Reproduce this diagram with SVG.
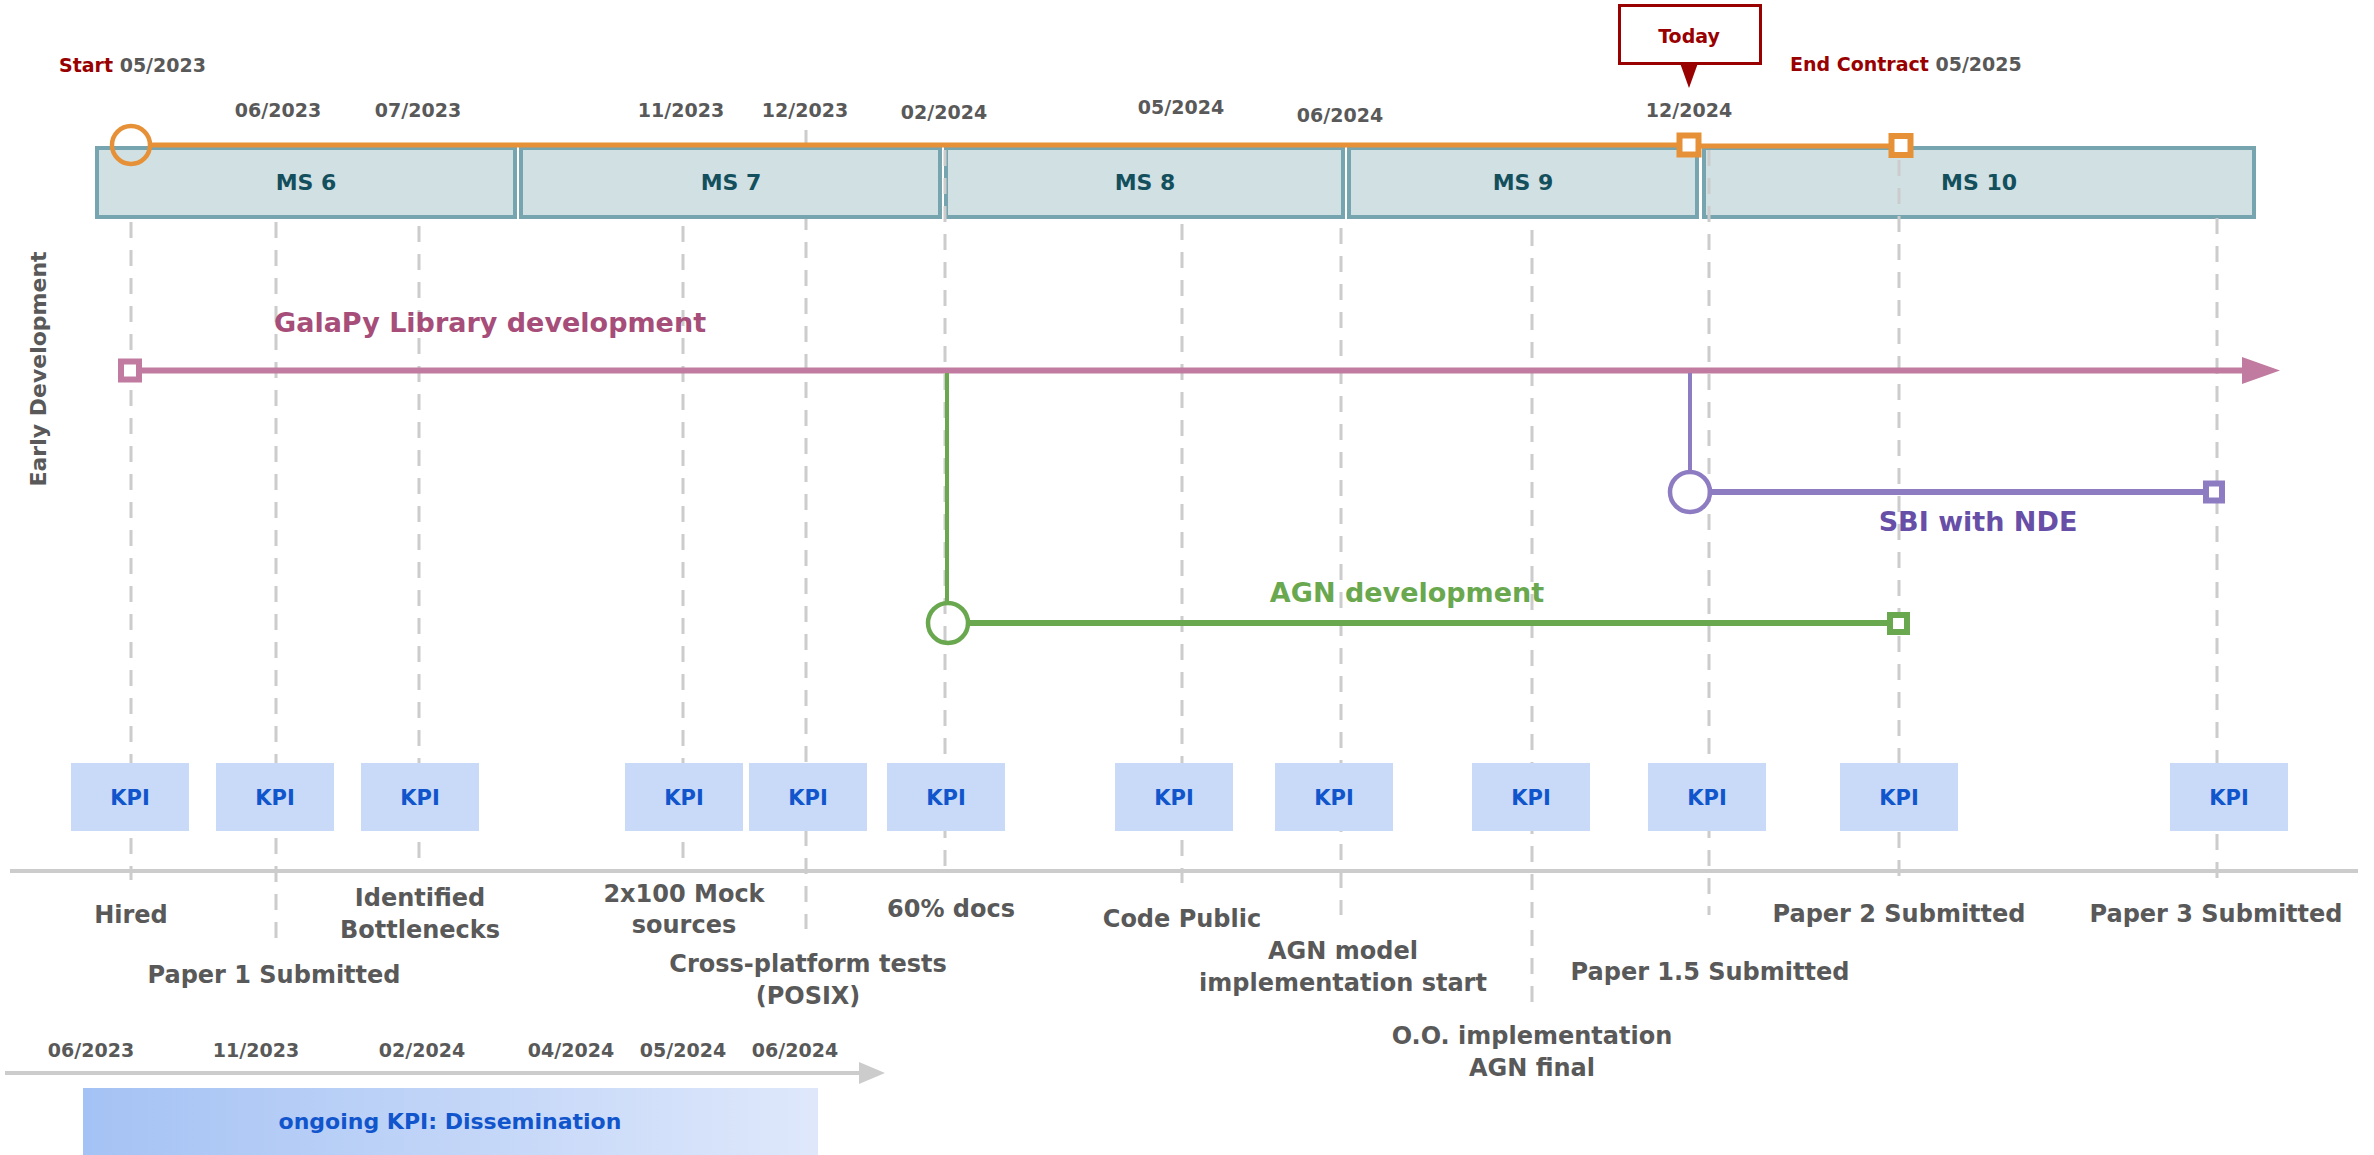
<svg xmlns="http://www.w3.org/2000/svg" width="2374" height="1155" viewBox="0 0 2374 1155">
<defs>
<linearGradient id="dissGrad" x1="0" y1="0" x2="1" y2="0">
<stop offset="0" stop-color="#a4c2f4"/>
<stop offset="1" stop-color="#dfe8fb"/>
</linearGradient>
<style>
text{font-family:"DejaVu Sans","Liberation Sans",sans-serif;font-weight:bold}
.date{font-size:19px;fill:#595959;text-anchor:middle}
.ms rect{fill:#d0e0e3;stroke:#76a5af;stroke-width:4}
.ms text{font-size:22px;fill:#134f5c;text-anchor:middle}
.kpi rect{fill:#c9daf8}
.kpi text{font-size:21px;fill:#1155cc;text-anchor:middle}
.lbl{font-size:24px;fill:#595959;text-anchor:middle}
.dash{stroke:#cccccc;stroke-width:3;stroke-dasharray:16 12;fill:none}
.red{fill:#990000}
</style>
</defs>
<rect width="2374" height="1155" fill="#ffffff"/>

<!-- dashed line behind box -->
<g id="connectors-back">
<line class="dash" x1="806" y1="130" x2="806" y2="929"/>
</g>

<!-- Milestone boxes -->
<g id="ms6" class="ms"><rect x="97" y="148" width="418" height="69"/><text x="306" y="190">MS 6</text></g>
<g id="ms7" class="ms"><rect x="521" y="148" width="419" height="69"/><text x="731" y="190">MS 7</text></g>
<g id="ms8" class="ms"><rect x="946" y="148" width="397" height="69"/><text x="1145" y="190">MS 8</text></g>
<g id="ms9" class="ms"><rect x="1349" y="148" width="348" height="69"/><text x="1523" y="190">MS 9</text></g>
<g id="ms10" class="ms"><rect x="1704" y="148" width="550" height="69"/><text x="1979" y="190">MS 10</text></g>

<g id="connectors">
<line class="dash" x1="131" y1="222" x2="131" y2="880"/>
<line class="dash" x1="276" y1="222" x2="276" y2="939"/>
<line class="dash" x1="419" y1="226" x2="419" y2="866"/>
<line class="dash" x1="683" y1="226" x2="683" y2="860"/>
<line class="dash" x1="945" y1="150" x2="945" y2="873"/>
<line class="dash" x1="1182" y1="224" x2="1182" y2="883"/>
<line class="dash" x1="1341" y1="228" x2="1341" y2="915"/>
<line class="dash" x1="1532" y1="230" x2="1532" y2="1002"/>
<line class="dash" x1="1709" y1="150" x2="1709" y2="915"/>
<line class="dash" x1="1899" y1="160" x2="1899" y2="878"/>
<line class="dash" x1="2217" y1="218" x2="2217" y2="878"/>

<!-- orange contract line -->
<line x1="151" y1="145" x2="1680" y2="145" stroke="#e69138" stroke-width="5"/>
<line x1="1698" y1="146" x2="1892" y2="146" stroke="#e69138" stroke-width="5"/>
<circle cx="131" cy="145" r="19" fill="none" stroke="#e69138" stroke-width="4.5"/>
<rect x="1679.5" y="135.5" width="19" height="19" fill="#ffffff" stroke="#e69138" stroke-width="6"/>
<rect x="1891.5" y="136" width="19" height="19" fill="#ffffff" stroke="#e69138" stroke-width="6"/>

<!-- GalaPy line -->
<line x1="142" y1="370.5" x2="2246" y2="370.5" stroke="#c27ba0" stroke-width="6"/>
<polygon points="2242,357 2280,370.5 2242,384" fill="#c27ba0"/>
<rect x="121" y="361.5" width="18" height="18" fill="#ffffff" stroke="#c27ba0" stroke-width="6"/>

<!-- AGN branch -->
<line x1="947" y1="373" x2="947" y2="602" stroke="#6aa84f" stroke-width="4"/>
<circle cx="948" cy="623" r="20" fill="none" stroke="#6aa84f" stroke-width="4.5"/>
<line x1="968" y1="623" x2="1890" y2="623" stroke="#6aa84f" stroke-width="6"/>
<rect x="1890" y="615" width="17" height="17" fill="#ffffff" stroke="#6aa84f" stroke-width="6"/>

<!-- SBI branch -->
<line x1="1690" y1="373" x2="1690" y2="471" stroke="#8e7cc3" stroke-width="4"/>
<circle cx="1690" cy="492" r="20" fill="none" stroke="#8e7cc3" stroke-width="4.5"/>
<line x1="1710" y1="492" x2="2206" y2="492" stroke="#8e7cc3" stroke-width="6"/>
<rect x="2206" y="483.5" width="16" height="17" fill="#ffffff" stroke="#8e7cc3" stroke-width="6"/>

<!-- main axis -->
<line x1="10" y1="871" x2="2358" y2="871" stroke="#cccccc" stroke-width="4"/>

<!-- bottom dissemination axis -->
<line x1="5" y1="1073" x2="862" y2="1073" stroke="#cccccc" stroke-width="4"/>
<polygon points="859,1062 885,1073 859,1084" fill="#cccccc"/>
</g>

<!-- Header labels -->
<g id="start-label"><text x="59" y="72" font-size="19"><tspan class="red">Start</tspan><tspan fill="#595959"> 05/2023</tspan></text></g>
<g id="end-label"><text x="1790" y="71" font-size="19"><tspan class="red">End Contract</tspan><tspan fill="#595959"> 05/2025</tspan></text></g>
<g id="today">
<rect x="1619.5" y="5.5" width="141" height="58" fill="#ffffff" stroke="#990000" stroke-width="3"/>
<polygon points="1680,63 1698,63 1689,88" fill="#990000"/>
<text x="1689" y="43" font-size="19" class="red" text-anchor="middle">Today</text>
</g>

<g id="top-dates">
<text class="date" x="278" y="117">06/2023</text>
<text class="date" x="418" y="117">07/2023</text>
<text class="date" x="681" y="117">11/2023</text>
<text class="date" x="805" y="117">12/2023</text>
<text class="date" x="944" y="119">02/2024</text>
<text class="date" x="1181" y="114">05/2024</text>
<text class="date" x="1340" y="122">06/2024</text>
<text class="date" x="1689" y="117">12/2024</text>
</g>

<g id="early-dev"><text transform="translate(46,369) rotate(-90)" font-size="22" fill="#595959" text-anchor="middle">Early Development</text></g>

<g id="galapy"><text x="274" y="332" font-size="27" fill="#a64d79">GalaPy Library development</text></g>
<g id="agn"><text x="1407" y="602" font-size="27" fill="#6aa84f" text-anchor="middle">AGN development</text></g>
<g id="sbi"><text x="1978" y="531" font-size="27" fill="#674ea7" text-anchor="middle">SBI with NDE</text></g>

<!-- KPI boxes -->
<g id="kpi1" class="kpi"><rect x="71" y="763" width="118" height="68"/><text x="130" y="805">KPI</text></g>
<g id="kpi2" class="kpi"><rect x="216" y="763" width="118" height="68"/><text x="275" y="805">KPI</text></g>
<g id="kpi3" class="kpi"><rect x="361" y="763" width="118" height="68"/><text x="420" y="805">KPI</text></g>
<g id="kpi4" class="kpi"><rect x="625" y="763" width="118" height="68"/><text x="684" y="805">KPI</text></g>
<g id="kpi5" class="kpi"><rect x="749" y="763" width="118" height="68"/><text x="808" y="805">KPI</text></g>
<g id="kpi6" class="kpi"><rect x="887" y="763" width="118" height="68"/><text x="946" y="805">KPI</text></g>
<g id="kpi7" class="kpi"><rect x="1115" y="763" width="118" height="68"/><text x="1174" y="805">KPI</text></g>
<g id="kpi8" class="kpi"><rect x="1275" y="763" width="118" height="68"/><text x="1334" y="805">KPI</text></g>
<g id="kpi9" class="kpi"><rect x="1472" y="763" width="118" height="68"/><text x="1531" y="805">KPI</text></g>
<g id="kpi10" class="kpi"><rect x="1648" y="763" width="118" height="68"/><text x="1707" y="805">KPI</text></g>
<g id="kpi11" class="kpi"><rect x="1840" y="763" width="118" height="68"/><text x="1899" y="805">KPI</text></g>
<g id="kpi12" class="kpi"><rect x="2170" y="763" width="118" height="68"/><text x="2229" y="805">KPI</text></g>

<!-- Event labels -->
<g id="events">
<text class="lbl" x="131" y="923">Hired</text>
<text class="lbl" x="274" y="983">Paper 1 Submitted</text>
<text class="lbl" x="420" y="906">Identified</text>
<text class="lbl" x="420" y="938">Bottlenecks</text>
<text class="lbl" x="684" y="902">2x100 Mock</text>
<text class="lbl" x="684" y="933">sources</text>
<text class="lbl" x="808" y="972">Cross-platform tests</text>
<text class="lbl" x="808" y="1004">(POSIX)</text>
<text class="lbl" x="951" y="917">60% docs</text>
<text class="lbl" x="1182" y="927">Code Public</text>
<text class="lbl" x="1343" y="959">AGN model</text>
<text class="lbl" x="1343" y="991">implementation start</text>
<text class="lbl" x="1532" y="1044">O.O. implementation</text>
<text class="lbl" x="1532" y="1076">AGN final</text>
<text class="lbl" x="1710" y="980">Paper 1.5 Submitted</text>
<text class="lbl" x="1899" y="922">Paper 2 Submitted</text>
<text class="lbl" x="2216" y="922">Paper 3 Submitted</text>
</g>

<g id="bottom-dates">
<text class="date" x="91" y="1057">06/2023</text>
<text class="date" x="256" y="1057">11/2023</text>
<text class="date" x="422" y="1057">02/2024</text>
<text class="date" x="571" y="1057">04/2024</text>
<text class="date" x="683" y="1057">05/2024</text>
<text class="date" x="795" y="1057">06/2024</text>
</g>

<g id="dissemination">
<rect x="83" y="1088" width="735" height="67" fill="url(#dissGrad)"/>
<text x="450" y="1129" font-size="22" fill="#1155cc" text-anchor="middle">ongoing KPI: Dissemination</text>
</g>
</svg>
